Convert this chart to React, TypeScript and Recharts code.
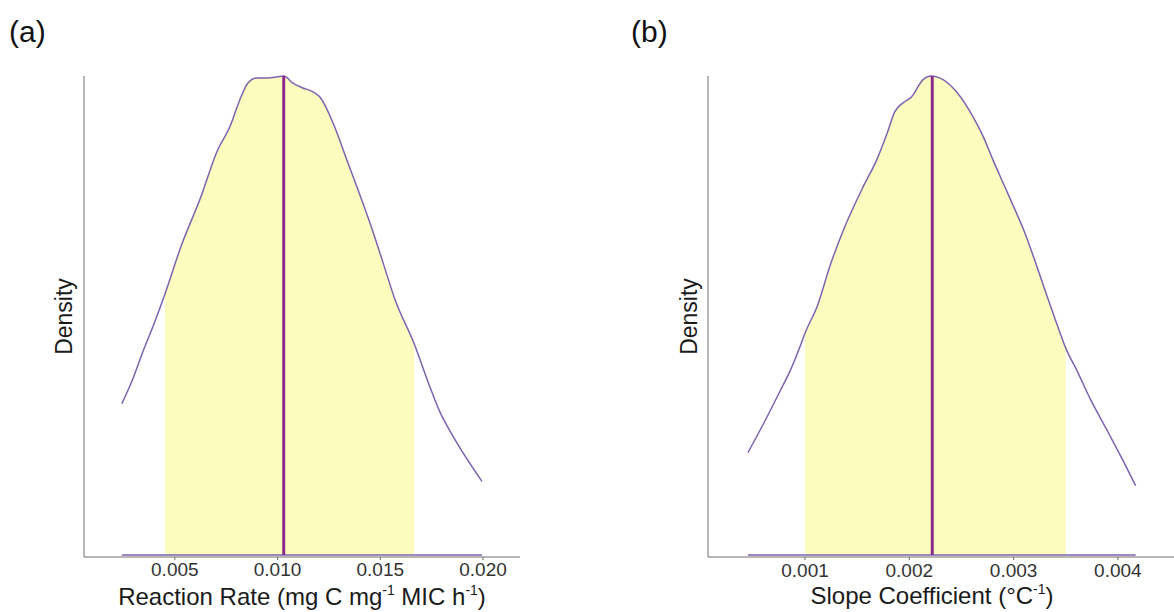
import React from 'react';
import { ComposedChart, Line, Area, XAxis, YAxis } from 'recharts';

const FONT = '"Liberation Sans", Arial, Helvetica, sans-serif';

// Panel (a): reaction rate posterior density
const rateX = [0.00242, 0.00296, 0.00344, 0.00398, 0.00452, 0.00534, 0.00622, 0.00709, 0.00768, 0.00816, 0.00855, 0.00899, 0.00948, 0.00997, 0.0103, 0.01075, 0.01123, 0.01172, 0.01206, 0.0127, 0.01337, 0.01449, 0.01513, 0.01571, 0.01665, 0.01732, 0.0179, 0.01853, 0.01995];
const rateDensity = [0.316, 0.368, 0.424, 0.482, 0.545, 0.649, 0.742, 0.846, 0.894, 0.95, 0.985, 0.996, 0.996, 0.998, 1.0, 0.985, 0.975, 0.967, 0.956, 0.902, 0.825, 0.694, 0.611, 0.534, 0.441, 0.362, 0.299, 0.249, 0.154];
const rateInterval = [0.00452, 0.01665];
const rateMedian = 0.0103;
const rateMedianDensity = 1.0;
const rateTicks = [0.005, 0.01, 0.015, 0.02];
const rateDomain = [0.00058, 0.0218];

// Panel (b): slope coefficient posterior density
const slopeX = [0.000453, 0.000597, 0.00076, 0.000856, 0.000971, 0.001, 0.00112, 0.00124, 0.00136, 0.00156, 0.00169, 0.00179, 0.00186, 0.00194, 0.00202, 0.00213, 0.00221, 0.00229, 0.00246, 0.00261, 0.00271, 0.0028, 0.00294, 0.00313, 0.00323, 0.00332, 0.00342, 0.0035, 0.00361, 0.00373, 0.0039, 0.00405, 0.00417];
const slopeDensity = [0.214, 0.272, 0.342, 0.384, 0.446, 0.463, 0.521, 0.604, 0.674, 0.77, 0.826, 0.882, 0.925, 0.944, 0.956, 0.992, 1.0, 0.996, 0.965, 0.915, 0.873, 0.826, 0.757, 0.66, 0.598, 0.541, 0.479, 0.432, 0.384, 0.328, 0.259, 0.197, 0.145];
const slopeInterval = [0.001, 0.0035];
const slopeMedian = 0.00222;
const slopeMedianDensity = 1.0;
const slopeTicks = [0.001, 0.002, 0.003, 0.004];
const slopeDomain = [0.00007, 0.004538];

const OUTLINE = '#7f63b0';
const MEDIAN = '#8c2a8a';
const FILL = '#fcfcbf';
const AXIS = '#6e6e6e';

type PanelProps = {
  left: number;
  width: number;
  marginLeft: number;
  marginRight: number;
  xs: number[];
  ds: number[];
  interval: number[];
  median: number;
  medianD: number;
  ticks: number[];
  domain: number[];
  tickBaseline: number;
  labelShift: number;
  labelY: number;
  densityShift: number;
  label: React.ReactNode;
};

function Panel(p: PanelProps) {
  const curve = p.xs.map((x, i) => ({ x, d: p.ds[i] }));
  const shaded = curve.filter((c) => c.x >= p.interval[0] - 1e-9 && c.x <= p.interval[1] + 1e-9);
  const base = [
    { x: p.xs[0], d: 0 },
    { x: p.xs[p.xs.length - 1], d: 0 },
  ];
  const med = [
    { x: p.median, d: 0 },
    { x: p.median, d: p.medianD },
  ];
  const renderTick = (props: any) => {
    const { x, payload } = props;
    return (
      <text x={x} y={p.tickBaseline} textAnchor="middle" fontFamily={FONT} fill="#333" style={{ fontSize: '19px' }}>
        {Number(payload.value).toFixed(3)}
      </text>
    );
  };
  return (
    <div style={{ position: 'absolute', left: p.left, top: 0 }}>
      <ComposedChart
        width={p.width}
        height={612}
        margin={{ top: 76, right: p.marginRight, bottom: 0, left: p.marginLeft }}
      >
        <XAxis
          type="number"
          dataKey="x"
          domain={p.domain}
          ticks={p.ticks}
          allowDataOverflow
          height={55}
          tickSize={3}
          stroke={AXIS}
          tick={renderTick}
          label={{
            content: (props: any) => {
              const vb = props.viewBox || {};
              const cx = vb.x + vb.width / 2 + p.labelShift;
              return (
                <text x={cx} y={p.labelY} textAnchor="middle" fontSize={24} fontFamily={FONT} fill="#1a1a1a">
                  {p.label}
                </text>
              );
            },
          }}
        />
        <YAxis
          type="number"
          domain={[-0.004, 1]}
          width={30}
          tick={false}
          tickLine={false}
          stroke={AXIS}
          label={{
            content: (props: any) => {
              const vb = props.viewBox || {};
              const x = vb.x + vb.width + p.densityShift;
              const y = vb.y + vb.height / 2;
              return (
                <text
                  x={x}
                  y={y}
                  textAnchor="middle"
                  fontSize={23}
                  fontFamily={FONT}
                  fill="#1a1a1a"
                  transform={`rotate(-90, ${x}, ${y})`}
                >
                  Density
                </text>
              );
            },
          }}
        />
        <Area
          data={shaded}
          dataKey="d"
          type="monotone"
          fill={FILL}
          fillOpacity={1}
          stroke="none"
          baseValue={0}
          isAnimationActive={false}
        />
        <Line data={curve} dataKey="d" type="monotone" stroke={OUTLINE} strokeWidth={1.5} dot={false} isAnimationActive={false} />
        <Line data={base} dataKey="d" type="linear" stroke={OUTLINE} strokeWidth={1.5} dot={false} isAnimationActive={false} />
        <Line data={med} dataKey="d" type="linear" stroke={MEDIAN} strokeWidth={3} dot={false} isAnimationActive={false} />
      </ComposedChart>
    </div>
  );
}

const supStyle = { fontSize: 14 };

export default function App() {
  return (
    <div style={{ position: 'absolute', left: 0, top: 0, width: 1174, height: 612, background: '#fff', overflow: 'hidden' }}>
      <Panel
        left={0}
        width={560}
        marginLeft={54}
        marginRight={40}
        xs={rateX}
        ds={rateDensity}
        interval={rateInterval}
        median={rateMedian}
        medianD={rateMedianDensity}
        ticks={rateTicks}
        domain={rateDomain}
        tickBaseline={576}
        labelShift={0}
        labelY={605}
        densityShift={-12}
        label={
          <>
            Reaction Rate (mg C mg
            <tspan style={supStyle} dy={-10}>-1</tspan>
            <tspan dy={10}> MIC h</tspan>
            <tspan style={supStyle} dy={-10}>-1</tspan>
            <tspan dy={10}>)</tspan>
          </>
        }
      />
      <Panel
        left={590}
        width={584}
        marginLeft={88}
        marginRight={0}
        xs={slopeX}
        ds={slopeDensity}
        interval={slopeInterval}
        median={slopeMedian}
        medianD={slopeMedianDensity}
        ticks={slopeTicks}
        domain={slopeDomain}
        tickBaseline={577}
        labelShift={-9}
        labelY={604}
        densityShift={-11}
        label={
          <>
            Slope Coefficient (°C
            <tspan style={supStyle} dy={-10}>-1</tspan>
            <tspan dy={10}>)</tspan>
          </>
        }
      />
      <svg width={1174} height={612} style={{ position: 'absolute', left: 0, top: 0, pointerEvents: 'none' }}>
        <text x={9} y={42} fontSize={30} fontFamily={FONT} fill="#111">(a)</text>
        <text x={631} y={42} fontSize={30} fontFamily={FONT} fill="#111">(b)</text>
      </svg>
    </div>
  );
}
